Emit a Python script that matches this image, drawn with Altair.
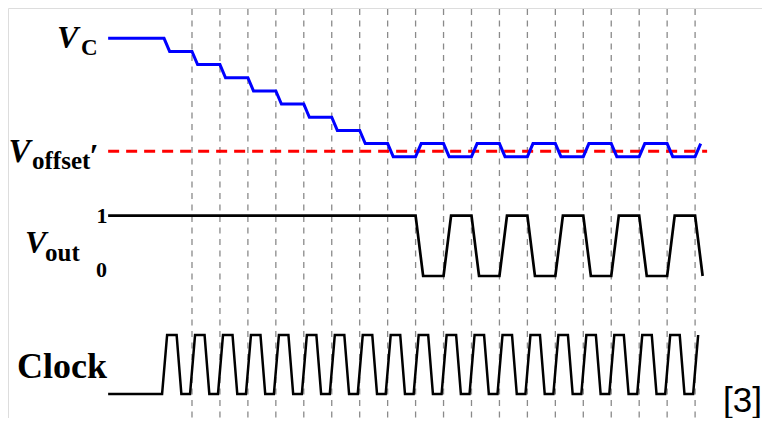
import altair as alt
import pandas as pd

# ---- data (time in clock periods, dashed lines at t = 0..18) ----
t_start = -3.0
dash_times = list(range(0, 19))

# Vc: comparator input, in LSB steps; one edge per clock rising edge
vc_init = 9
vc_edges = list(range(-1, 19))
vc_levels = [8, 7, 6, 5, 4, 3, 2, 1, 0, 1, 0, 1, 0, 1, 0, 1, 0, 1, 0, 1]
vc_ramp = 0.2
v_offset = 0.42
offset_end = 18.43

# Vout: comparator output
vout_init = 1
vout_edges = list(range(8, 19))
vout_levels = [0, 1, 0, 1, 0, 1, 0, 1, 0, 1, 0]
vout_ramp = 0.27

# Clock: rising edges and pulse shape (fractions of a period)
clk_rises = list(range(-1, 19))
clk_rise_start, clk_rise_end = -0.07, 0.11
clk_fall_start, clk_fall_end = 0.45, 0.62


def waveform(init, edges, levels, ramp):
    pts = [(t_start, init)]
    cur = init
    for e, lv in zip(edges, levels):
        pts.append((e, cur))
        pts.append((e + ramp, lv))
        cur = lv
    return pd.DataFrame(pts, columns=["t", "v"]).assign(i=lambda d: range(len(d)))


vc_df = waveform(vc_init, vc_edges, vc_levels, vc_ramp)
vout_df = waveform(vout_init, vout_edges, vout_levels, vout_ramp)

clk_pts = [(t_start, 0)]
for n, k in enumerate(clk_rises):
    clk_pts.append((k + clk_rise_start, 0))
    clk_pts.append((k + clk_rise_end, 1))
    if n < len(clk_rises) - 1:
        clk_pts.append((k + clk_fall_start, 1))
        clk_pts.append((k + clk_fall_end, 0))
clk_df = pd.DataFrame(clk_pts, columns=["t", "v"]).assign(i=lambda d: range(len(d)))

off_df = pd.DataFrame({"t": [t_start, offset_end], "v": [v_offset, v_offset]})
dash_df = pd.DataFrame({"t": dash_times})

# ---- scales ----
W, H = 754, 410
xs = alt.Scale(domain=[-6.583, 20.394], nice=False, zero=False)
vc_scale = alt.Scale(domain=[0, 9], range=[148.7, 30.3], nice=False, zero=False)
vout_scale = alt.Scale(domain=[0, 1], range=[268, 207.7], nice=False, zero=False)
clk_scale = alt.Scale(domain=[0, 1], range=[386, 327], nice=False, zero=False)

X = alt.X("t:Q", scale=xs, axis=None)

grid = alt.Chart(dash_df).mark_rule(color="#8a8a8a", strokeWidth=1.3, strokeDash=[6, 5.5]).encode(
    x=X, y=alt.value(1), y2=alt.value(414)
)
offset_line = alt.Chart(off_df).mark_line(color="#ff0000", strokeWidth=3, strokeDash=[11, 7]).encode(
    x=X, y=alt.Y("v:Q", scale=vc_scale, axis=None)
)
vc_line = alt.Chart(vc_df).mark_line(color="#0000ff", strokeWidth=3).encode(
    x=X, y=alt.Y("v:Q", scale=vc_scale, axis=None), order="i:Q"
)
vout_line = alt.Chart(vout_df).mark_line(color="#000000", strokeWidth=2.7).encode(
    x=X, y=alt.Y("v:Q", scale=vout_scale, axis=None), order="i:Q"
)
clk_line = alt.Chart(clk_df).mark_line(color="#000000", strokeWidth=2.5).encode(
    x=X, y=alt.Y("v:Q", scale=clk_scale, axis=None), order="i:Q"
)

SERIF = "Liberation Serif"


def label(text, x, y, size, italic=False, bold=True, align="left", font=SERIF):
    kw = dict(text=text, font=font, fontSize=size, align=align, baseline="alphabetic",
              fontWeight="bold" if bold else "normal", color="#000000")
    if italic:
        kw["fontStyle"] = "italic"
    return alt.Chart(pd.DataFrame({"a": [0]})).mark_text(**kw).encode(x=alt.value(x), y=alt.value(y))


texts = [
    label("V", 49, 40, 32, italic=True),
    label("C", 73, 47, 23),
    label("V", 0.5, 154, 33, italic=True),
    label("offset", 24, 160.5, 25),
    label("′", 81, 159, 33, italic=True),
    label("V", 17, 245, 32, italic=True),
    label("out", 37, 252.5, 25),
    label("1", 94, 215.3, 22, align="center"),
    label("0", 93.5, 269, 22, align="center"),
    label("Clock", 9, 370, 36),
    label("[3]", 754, 403.5, 35, bold=False, align="right", font="Liberation Sans"),
]

chart = alt.layer(grid, offset_line, vc_line, vout_line, clk_line, *texts).resolve_scale(
    y="independent"
).properties(
    width=W, height=H, autosize=alt.AutoSizeParams(type="none"), padding=0
).configure_view(stroke="transparent", strokeWidth=0).configure(background="transparent")

chart.save("out.html", embed_options={"renderer": "svg", "actions": False})
